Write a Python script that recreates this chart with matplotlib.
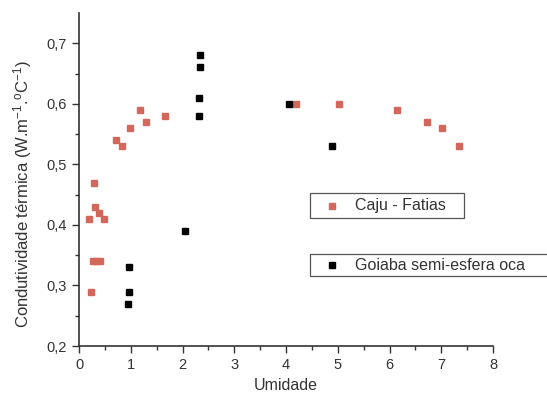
import matplotlib
matplotlib.use("Agg")
import matplotlib.pyplot as plt
from matplotlib.lines import Line2D
from matplotlib.patches import Rectangle

plt.rcParams['font.family'] = ['Liberation Sans', 'DejaVu Sans']
plt.rcParams['mathtext.fontset'] = 'custom'
plt.rcParams['mathtext.rm'] = 'Liberation Sans'
plt.rcParams['mathtext.it'] = 'Liberation Sans'
plt.rcParams['mathtext.default'] = 'regular'

caju_x = [0.20, 0.29, 0.31, 0.38, 0.48, 0.27, 0.33, 0.40, 0.23, 0.72, 0.83, 0.99, 1.17, 1.30, 1.67, 4.19, 5.03, 6.14, 6.73, 7.01, 7.35]
caju_y = [0.41, 0.47, 0.43, 0.42, 0.41, 0.34, 0.34, 0.34, 0.29, 0.54, 0.53, 0.56, 0.59, 0.57, 0.58, 0.60, 0.60, 0.59, 0.57, 0.56, 0.53]
goiaba_x = [0.95, 0.97, 0.97, 2.05, 2.31, 2.31, 2.34, 2.33, 4.06, 4.88]
goiaba_y = [0.27, 0.29, 0.33, 0.39, 0.58, 0.61, 0.66, 0.68, 0.60, 0.53]

red = '#d4675c'
W, H = 547, 397
fig = plt.figure(figsize=(W/100, H/100), dpi=100)
ax = fig.add_axes([79/W, 1-346/H, (493-79)/W, (346-13)/H])

ax.plot(caju_x, caju_y, 's', color=red, ms=5, mec=red, ls='none')
ax.plot(goiaba_x, goiaba_y, 's', color='black', ms=5, ls='none')

ax.set_xlim(0, 8)
ax.set_ylim(0.2, 0.75)
ax.set_xticks(range(0, 9))
ax.set_xticks([i + 0.5 for i in range(8)], minor=True)
yt = [0.2, 0.3, 0.4, 0.5, 0.6, 0.7]
ax.set_yticks(yt)
ax.set_yticklabels([f"{v:.1f}".replace('.', ',') for v in yt])
ax.set_yticks([0.25, 0.35, 0.45, 0.55, 0.65], minor=True)
ax.spines['top'].set_visible(False)
ax.spines['right'].set_visible(False)
for s in ['left', 'bottom']:
    ax.spines[s].set_color('#333333')
    ax.spines[s].set_linewidth(1.2)
ax.tick_params(which='major', direction='out', length=5, width=1, colors='#333333', labelsize=10.5, labelcolor='#333333')
ax.tick_params(which='minor', direction='out', length=3, width=1, colors='#333333')

ax.set_xlabel('Umidade', fontsize=11.5, color='#333333')
ax.xaxis.set_label_coords(0.5, -0.095)
ax.set_ylabel(r'Condutividade térmica (W.m$^{-1}$.$^{o}$C$^{-1}$)', fontsize=12, color='#333333')
ax.yaxis.set_label_coords(-0.108, 0.456)

# legend boxes
def legbox(x0, y0, x1, y1, color, label):
    r = Rectangle((x0/W, 1-y1/H), (x1-x0)/W, (y1-y0)/H, transform=fig.transFigure,
                  fill=True, facecolor='white', edgecolor='#555555', lw=0.9, clip_on=False)
    fig.add_artist(r)
    yc = 1-(y0+y1)/2/H
    fig.add_artist(Line2D([(x0+22)/W], [yc], marker='s', color=color, ms=5, ls='none',
                          transform=fig.transFigure))
    fig.text((x0+45)/W, yc, label, fontsize=11.5, color='#333333', va='center', ha='left')

legbox(310, 193, 464, 218, red, 'Caju - Fatias')
legbox(310, 254, 550, 276, 'black', 'Goiaba semi-esfera oca')

fig.savefig('out.png', dpi=100)
